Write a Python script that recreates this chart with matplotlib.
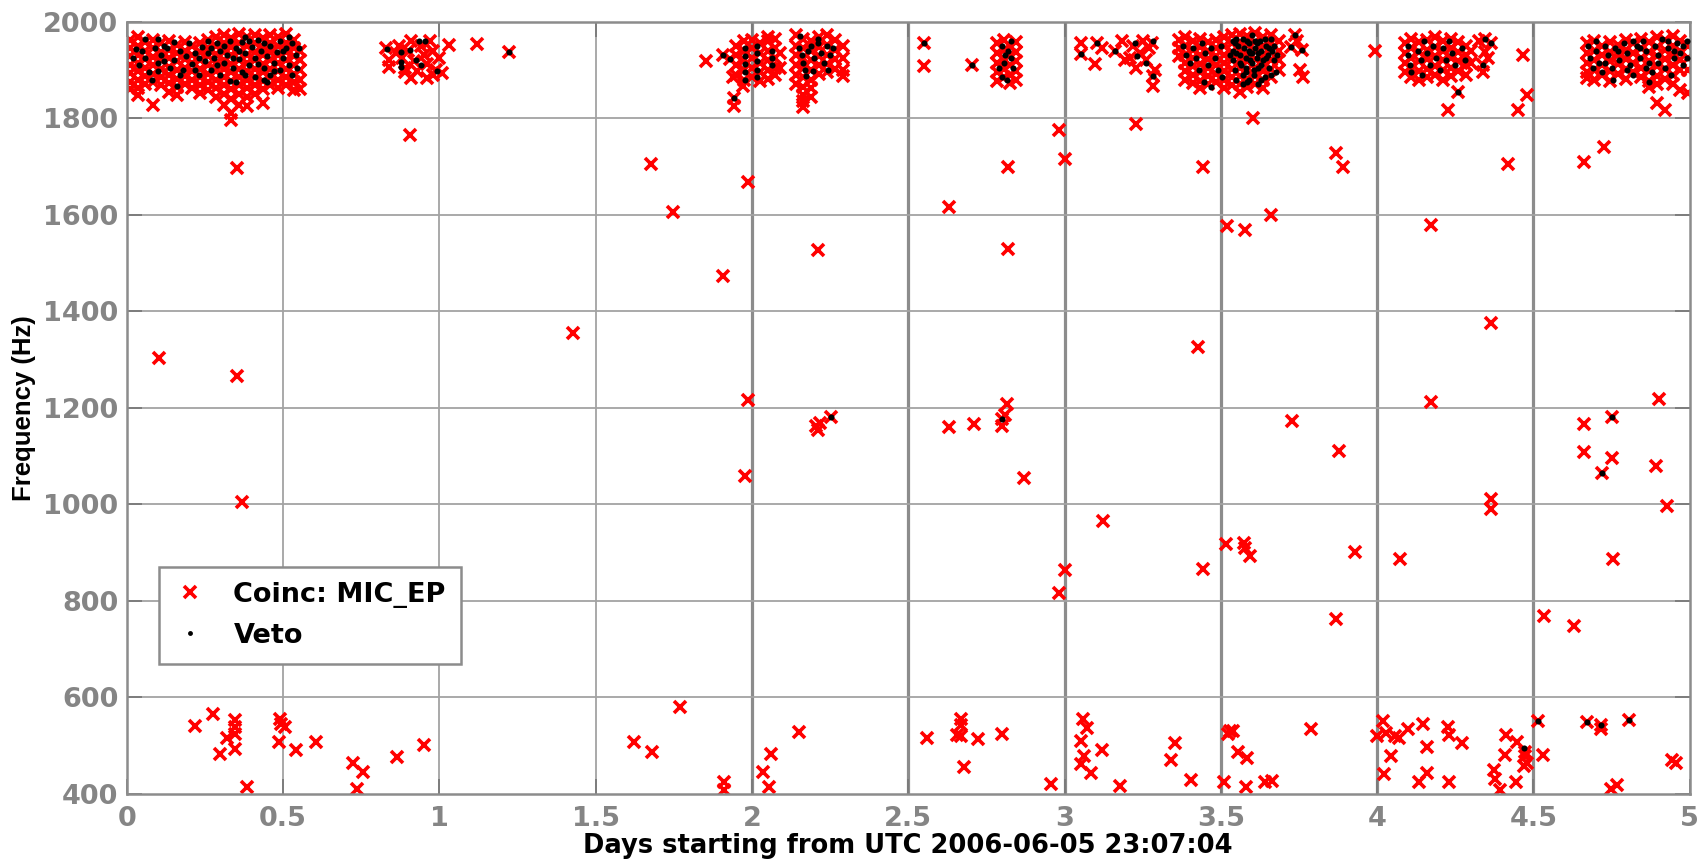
import matplotlib
matplotlib.use("Agg")
import matplotlib.pyplot as plt

# ---------------- data ----------------
x_ticks = [0, 0.5, 1, 1.5, 2, 2.5, 3, 3.5, 4, 4.5, 5]
x_tick_labels = ["0", "0.5", "1", "1.5", "2", "2.5", "3", "3.5", "4", "4.5", "5"]
y_ticks = [400, 600, 800, 1000, 1200, 1400, 1600, 1800, 2000]
series_labels = ["Coinc: MIC_EP", "Veto"]
x_label = "Days starting from UTC 2006-06-05 23:07:04"
y_label = "Frequency (Hz)"

# dense clusters of coincidences near 1900 Hz: (day, [frequencies])
coinc_cluster_a = [
    (0.01, [1962, 1945, 1928, 1910, 1893, 1876, 1860]),
    (0.035, [1968, 1950, 1932, 1915, 1898, 1880, 1862, 1848]),
    (0.06, [1958, 1940, 1922, 1905, 1888, 1870]),
    (0.085, [1962, 1945, 1927, 1910, 1892, 1875, 1828]),
    (0.11, [1955, 1938, 1920, 1902, 1885, 1868]),
    (0.135, [1960, 1942, 1925, 1907, 1890, 1872, 1855]),
    (0.16, [1952, 1935, 1918, 1900, 1882, 1865, 1848]),
    (0.185, [1958, 1940, 1922, 1905, 1888, 1870]),
    (0.21, [1950, 1932, 1915, 1897, 1880, 1862]),
    (0.235, [1956, 1938, 1920, 1903, 1885, 1868, 1852]),
    (0.26, [1962, 1945, 1928, 1910, 1892, 1875, 1858]),
    (0.285, [1968, 1950, 1933, 1915, 1898, 1880, 1862, 1845]),
    (0.31, [1972, 1955, 1938, 1920, 1902, 1885, 1868, 1850, 1828]),
    (0.335, [1966, 1948, 1930, 1912, 1895, 1878, 1860, 1840, 1810, 1797]),
    (0.36, [1974, 1956, 1938, 1920, 1903, 1886, 1868, 1850, 1828]),
    (0.385, [1968, 1950, 1932, 1915, 1898, 1880, 1862, 1845, 1826]),
    (0.41, [1972, 1955, 1938, 1920, 1902, 1885, 1868, 1850]),
    (0.435, [1966, 1948, 1930, 1912, 1895, 1878, 1860, 1831]),
    (0.46, [1972, 1955, 1938, 1920, 1903, 1886, 1868]),
    (0.485, [1968, 1950, 1932, 1915, 1898, 1880, 1862]),
    (0.51, [1974, 1956, 1938, 1920, 1903, 1886, 1868]),
    (0.535, [1962, 1945, 1928, 1910, 1892, 1875, 1858]),
    (0.555, [1940, 1920, 1900, 1880, 1860]),
]
coinc_cluster_c = [
    (1.95, [1950, 1930, 1910, 1890]),
    (1.975, [1960, 1940, 1920, 1900, 1880]),
    (2.0, [1962, 1945, 1925, 1905, 1885]),
    (2.025, [1955, 1935, 1915, 1895, 1878]),
    (2.05, [1969, 1960, 1940, 1920, 1900, 1882]),
    (2.075, [1965, 1945, 1925, 1905, 1890]),
    (2.09, [1935, 1905]),
    (2.14, [1972, 1950, 1930, 1910, 1890, 1870]),
    (2.165, [1965, 1945, 1925, 1905, 1885, 1865, 1848, 1835, 1824]),
    (2.19, [1960, 1940, 1920, 1900, 1880, 1862, 1845]),
    (2.215, [1968, 1948, 1928, 1910, 1892]),
    (2.24, [1972, 1952, 1932, 1912, 1895]),
    (2.265, [1962, 1942, 1922, 1902]),
    (2.29, [1950, 1925, 1900, 1888]),
]
coinc_cluster_d = [
    (2.785, [1955, 1935, 1915, 1895, 1878]),
    (2.805, [1962, 1942, 1922, 1902, 1885]),
    (2.825, [1950, 1930, 1910, 1890, 1872]),
    (2.845, [1958, 1938, 1918, 1898, 1880]),
]
coinc_cluster_e = [
    (3.365, [1962, 1945, 1928]),
    (3.385, [1968, 1950, 1932, 1915, 1898, 1880]),
    (3.41, [1960, 1942, 1925, 1908, 1890, 1872]),
    (3.435, [1965, 1948, 1930, 1912, 1895, 1878, 1862]),
    (3.46, [1958, 1940, 1922, 1905, 1888, 1870]),
    (3.485, [1962, 1945, 1928, 1910, 1892, 1875]),
    (3.51, [1968, 1950, 1932, 1915, 1898, 1880, 1862]),
    (3.535, [1972, 1955, 1938, 1920, 1902, 1885, 1868]),
    (3.56, [1975, 1958, 1940, 1922, 1905, 1888, 1870, 1855]),
    (3.585, [1970, 1952, 1935, 1918, 1900, 1882, 1865]),
    (3.61, [1976, 1958, 1940, 1922, 1905, 1888, 1870]),
    (3.635, [1968, 1950, 1932, 1915, 1898, 1880, 1862]),
    (3.66, [1972, 1955, 1938, 1920, 1902, 1885]),
    (3.685, [1960, 1940, 1920, 1900]),
]
coinc_cluster_f = [
    (4.09, [1955, 1935, 1915, 1895]),
    (4.11, [1965, 1945, 1925, 1905, 1885]),
    (4.135, [1958, 1938, 1918, 1898, 1880]),
    (4.16, [1962, 1942, 1922, 1902, 1885]),
    (4.185, [1968, 1948, 1928, 1908, 1890]),
    (4.21, [1960, 1940, 1920, 1900, 1880]),
    (4.235, [1965, 1945, 1925, 1905, 1888]),
    (4.26, [1958, 1938, 1918, 1898]),
    (4.285, [1950, 1930, 1910, 1890]),
    (4.3, [1940, 1915]),
]
coinc_cluster_g = [
    (4.67, [1955, 1935, 1915, 1895, 1883]),
    (4.695, [1960, 1940, 1920, 1900, 1880]),
    (4.72, [1950, 1930, 1910, 1890]),
    (4.745, [1958, 1938, 1918, 1898, 1878]),
    (4.77, [1952, 1932, 1912, 1892]),
    (4.795, [1962, 1942, 1922, 1902, 1882]),
    (4.82, [1955, 1935, 1915, 1895]),
    (4.845, [1965, 1945, 1925, 1905, 1885]),
    (4.87, [1958, 1938, 1918, 1898, 1878, 1865]),
    (4.895, [1968, 1948, 1928, 1908, 1888, 1870, 1831]),
    (4.92, [1962, 1942, 1922, 1902, 1882, 1817]),
    (4.945, [1970, 1950, 1930, 1910, 1890, 1870]),
    (4.97, [1960, 1940, 1920, 1900, 1859]),
    (4.993, [1950, 1925, 1900, 1852]),
]

# sparser coincidences in the upper band
coinc_top_x = [0.83, 0.84, 0.84, 0.86, 0.87, 0.88, 0.89, 0.90, 0.91, 0.91, 0.92, 0.93,
               0.94, 0.95, 0.96, 0.96, 0.97, 0.98, 0.99, 1.00, 1.01, 1.03, 1.12, 1.224,
               0.89, 0.98,
               1.854, 1.909, 1.93, 1.94, 1.943, 1.943, 1.972,
               2.552, 2.552, 2.703,
               3.052, 3.052, 3.098, 3.12, 3.103, 3.16, 3.183, 3.195, 3.22, 3.24, 3.23,
               3.26, 3.27, 3.284, 3.284, 3.29, 3.25, 3.28, 3.21,
               3.736, 3.724, 3.76, 3.754, 3.763, 3.745, 3.994,
               4.258, 4.228, 4.45, 4.48, 4.467,
               4.325, 4.345, 4.363, 4.34, 4.345, 4.355, 4.34]
coinc_top_y = [1945, 1920, 1907, 1935, 1950, 1925, 1905, 1940, 1883, 1960, 1918, 1898,
               1950, 1930, 1883, 1912, 1960, 1940, 1900, 1925, 1893, 1952, 1953, 1938,
               1895, 1890,
               1919, 1931, 1923, 1886, 1841, 1826, 1866,
               1955, 1909, 1910,
               1955, 1934, 1912, 1945, 1955, 1939, 1960, 1921, 1950, 1935, 1905,
               1920, 1945, 1888, 1866, 1900, 1960, 1955, 1925,
               1972, 1948, 1941, 1900, 1886, 1960, 1939,
               1855, 1817, 1817, 1848, 1931,
               1960, 1964, 1955, 1910, 1938, 1925, 1895]

# scattered coincidences in the middle band
coinc_mid_x = [0.104, 0.354, 0.37, 0.354, 0.907,
               1.678, 1.989, 1.749, 2.213, 1.909, 1.429, 1.989, 2.206, 2.219, 2.213,
               2.254, 1.979, 2.632, 2.632, 2.709,
               2.983, 3.229, 3.603, 2.818, 3.0, 3.443, 3.870, 3.891, 3.662, 3.52,
               3.579, 4.171, 2.818, 3.427, 2.817, 2.80, 2.80, 2.81, 4.171, 3.728,
               3.879, 2.869, 3.122, 3.517, 3.574, 3.579, 3.595, 3.928, 4.072, 3.443,
               3.0, 2.983, 3.870,
               4.418, 4.661, 4.725, 4.363, 4.901, 4.661, 4.752, 4.661, 4.752, 4.718,
               4.892, 4.928, 4.363, 4.363, 4.754, 4.535, 4.629]
coinc_mid_y = [1303, 1267, 1005, 1697, 1766,
               1705, 1668, 1605, 1528, 1474, 1355, 1217, 1162, 1169, 1155,
               1181, 1059, 1616, 1160, 1166,
               1776, 1788, 1800, 1700, 1716, 1698, 1729, 1698, 1600, 1576,
               1568, 1579, 1529, 1326, 1207, 1176, 1162, 1185, 1212, 1172,
               1110, 1054, 966, 917, 920, 910, 894, 902, 886, 866,
               864, 816, 763,
               1705, 1710, 1741, 1376, 1219, 1167, 1181, 1109, 1097, 1066,
               1079, 997, 1012, 990, 886, 769, 748]

# coincidences in the low band (400-600 Hz)
coinc_low_x = [0.22, 0.275, 0.32, 0.30, 0.345, 0.348, 0.348, 0.348, 0.385, 0.49,
               0.495, 0.505, 0.486, 0.54, 0.605, 0.725, 0.756, 0.738, 0.866, 0.95,
               1.77, 1.624, 1.68, 1.91, 1.91, 2.037, 2.06, 2.055, 2.15,
               2.56, 2.668, 2.67, 2.655, 2.67, 2.724, 2.80, 2.68, 2.958,
               3.059, 3.071, 3.054, 3.063, 3.054, 3.085, 3.12, 3.177, 3.354, 3.34,
               3.406, 3.51, 3.528, 3.54, 3.524, 3.554, 3.585, 3.58, 3.64, 3.663, 3.79,
               4.019, 4.0, 4.03, 4.057, 4.07, 4.1, 4.146, 4.043, 4.022, 4.16, 4.16,
               4.135, 4.228, 4.23, 4.27, 4.23, 4.413, 4.448, 4.408, 4.373, 4.378,
               4.392, 4.444, 4.474, 4.474, 4.48, 4.47, 4.514, 4.531, 4.673, 4.717,
               4.717, 4.807, 4.748, 4.769, 4.943, 4.957]
coinc_low_y = [540, 565, 515, 482, 553, 539, 525, 494, 415, 556,
               544, 538, 508, 491, 508, 464, 446, 410, 477, 501,
               581, 507, 487, 425, 408, 446, 482, 415, 529,
               516, 556, 542, 523, 520, 514, 524, 455, 420,
               556, 537, 509, 478, 462, 443, 492, 417, 506, 471,
               430, 425, 531, 531, 524, 488, 474, 415, 424, 427, 534,
               551, 520, 527, 521, 516, 534, 544, 478, 441, 497, 443,
               425, 539, 523, 506, 424, 523, 508, 481, 450, 431,
               408, 425, 488, 478, 464, 457, 551, 481, 549, 534,
               542, 553, 411, 418, 471, 465]

# veto triggers
veto_x = [0.03, 0.05, 0.06, 0.04, 0.07, 0.08, 0.06, 0.10, 0.11, 0.10, 0.10, 0.13,
          0.15, 0.14, 0.17, 0.18, 0.19, 0.20, 0.21, 0.22, 0.23, 0.24, 0.25, 0.26,
          0.27, 0.28, 0.29, 0.30, 0.30, 0.31, 0.32, 0.33, 0.33, 0.34, 0.35, 0.36,
          0.37, 0.37, 0.38, 0.39, 0.40, 0.41, 0.41, 0.42, 0.43, 0.44, 0.45, 0.46,
          0.46, 0.47, 0.48, 0.49, 0.49, 0.50, 0.51, 0.52, 0.53, 0.54, 0.545, 0.52,
          0.16, 0.35, 0.44, 0.12, 0.27, 0.38, 0.29,
          0.832, 0.879, 0.879, 0.879, 0.905, 0.924, 0.943, 0.936, 0.955, 0.993, 1.224,
          1.909, 1.93, 1.943, 1.977, 1.977, 1.977, 1.977, 1.977, 2.017, 2.017, 2.017,
          2.017, 2.017, 2.063, 2.063, 2.063,
          2.155, 2.15, 2.16, 2.165, 2.17, 2.18, 2.19, 2.2, 2.21, 2.22, 2.23, 2.24,
          2.25, 2.26, 2.195, 2.172, 2.245, 2.21,
          2.552, 2.703,
          2.80, 2.81, 2.805, 2.79, 2.82, 2.83, 2.835, 2.8, 2.815, 2.83,
          3.052, 3.103, 3.16, 3.226, 3.284, 3.232, 3.26, 3.284,
          3.38, 3.39, 3.40, 3.41, 3.42, 3.43, 3.44, 3.45, 3.46, 3.47, 3.48, 3.49,
          3.50, 3.505, 3.445, 3.47,
          3.54, 3.54, 3.54, 3.545, 3.55, 3.555, 3.56, 3.565, 3.57, 3.575, 3.58, 3.58,
          3.585, 3.59, 3.595, 3.6, 3.6, 3.605, 3.61, 3.615, 3.62, 3.625, 3.63, 3.635,
          3.64, 3.645, 3.65, 3.655, 3.66, 3.665, 3.67, 3.675, 3.57, 3.62, 3.53, 3.61,
          3.58, 3.6,
          3.736, 3.724, 3.76,
          4.1, 4.1, 4.105, 4.11, 4.13, 4.14, 4.15, 4.16, 4.17, 4.18, 4.19, 4.2,
          4.21, 4.22, 4.23, 4.24, 4.25, 4.27, 4.28, 4.258, 4.145,
          4.345, 4.363, 4.34,
          4.675, 4.68, 4.69, 4.7, 4.71, 4.72, 4.73, 4.74, 4.75, 4.755, 4.76, 4.775,
          4.79, 4.8, 4.81, 4.82, 4.83, 4.84, 4.85, 4.86, 4.87, 4.88, 4.89, 4.9,
          4.91, 4.92, 4.93, 4.95, 4.96, 4.97, 4.98, 4.99, 4.87, 4.94,
          2.254, 2.80, 4.752, 4.718,
          4.47, 4.514, 4.673, 4.717, 4.807]
veto_y = [1944, 1940, 1925, 1910, 1895, 1880, 1965, 1965, 1930, 1915, 1898, 1945,
          1920, 1905, 1940, 1900, 1928, 1955, 1912, 1935, 1890, 1948, 1918, 1935,
          1900, 1925, 1955, 1940, 1890, 1915, 1930, 1960, 1878, 1905, 1945, 1922,
          1895, 1958, 1935, 1910, 1948, 1925, 1885, 1962, 1940, 1905, 1928, 1950,
          1890, 1915, 1938, 1960, 1900, 1925, 1945, 1910, 1890, 1930, 1905, 1968,
          1866, 1875, 1880, 1950, 1945, 1968, 1910,
          1943, 1938, 1917, 1907, 1941, 1921, 1910, 1959, 1959, 1897, 1938,
          1931, 1923, 1841, 1945, 1928, 1912, 1895, 1880, 1950, 1935, 1918,
          1900, 1885, 1940, 1925, 1910,
          1970, 1945, 1930, 1915, 1900, 1940, 1950, 1925, 1955, 1935, 1915, 1950,
          1930, 1945, 1897, 1887, 1900, 1965,
          1955, 1910,
          1950, 1930, 1915, 1905, 1940, 1925, 1905, 1885, 1880, 1960,
          1934, 1955, 1939, 1955, 1959, 1928, 1914, 1888,
          1950, 1930, 1915, 1945, 1925, 1900, 1955, 1935, 1910, 1945, 1925, 1900,
          1950, 1885, 1875, 1865,
          1960, 1940, 1920, 1900, 1880, 1950, 1930, 1910, 1965, 1945, 1925, 1895,
          1875, 1955, 1935, 1915, 1972, 1890, 1945, 1925, 1905, 1960, 1940, 1920,
          1885, 1950, 1930, 1905, 1965, 1940, 1920, 1895, 1870, 1870, 1930, 1960,
          1905, 1935,
          1972, 1948, 1941,
          1950, 1930, 1910, 1895, 1940, 1920, 1960, 1935, 1910, 1950, 1925, 1900,
          1945, 1920, 1960, 1935, 1910, 1945, 1920, 1855, 1890,
          1964, 1955, 1910,
          1950, 1925, 1905, 1940, 1915, 1895, 1950, 1930, 1905, 1880, 1945, 1920,
          1955, 1935, 1910, 1890, 1950, 1925, 1960, 1940, 1915, 1895, 1950, 1930,
          1965, 1905, 1945, 1925, 1955, 1935, 1910, 1960, 1875, 1890,
          1181, 1176, 1181, 1066,
          495, 551, 549, 542, 553]

# extra veto triggers inside the densest clusters
veto_dense_x = [3.545, 3.55, 3.56, 3.57, 3.585, 3.59, 3.595, 3.605, 3.615, 3.62,
                3.63, 3.64, 3.645, 3.655, 3.66, 3.67, 3.68, 3.59, 3.63, 3.55,
                0.02, 0.09, 0.12, 0.15, 0.17, 0.22, 0.26, 0.31, 0.34, 0.36,
                0.39, 0.42, 0.44, 0.47, 0.50, 0.53, 0.38, 0.45, 0.55, 0.23,
                4.70, 4.73, 4.77, 4.80, 4.84, 4.86, 4.90, 4.93, 4.95, 4.98,
                4.99, 4.82]
veto_dense_y = [1955, 1935, 1915, 1890, 1960, 1940, 1920, 1900, 1955, 1935,
                1910, 1965, 1925, 1945, 1890, 1950, 1930, 1880, 1880, 1965,
                1925, 1945, 1918, 1958, 1890, 1900, 1960, 1950, 1925, 1940,
                1960, 1912, 1955, 1898, 1940, 1955, 1890, 1875, 1945, 1925,
                1960, 1915, 1940, 1900, 1945, 1905, 1915, 1960, 1940, 1950,
                1925, 1960]

# ---------------- assemble series ----------------
coinc_x, coinc_y = [], []
for cluster in (coinc_cluster_a, coinc_cluster_c, coinc_cluster_d,
                coinc_cluster_e, coinc_cluster_f, coinc_cluster_g):
    for cx, ys in cluster:
        for cy in ys:
            coinc_x.append(cx)
            coinc_y.append(cy)
coinc_x += coinc_top_x + coinc_mid_x + coinc_low_x
coinc_y += coinc_top_y + coinc_mid_y + coinc_low_y
all_veto_x = veto_x + veto_dense_x
all_veto_y = veto_y + veto_dense_y

# ---------------- figure ----------------
W, H = 1701, 860
fig = plt.figure(figsize=(W / 100, H / 100), dpi=100)
fig.patch.set_facecolor("white")
ax = fig.add_axes([126.7 / W, 1 - 794 / H, 1563 / W, 772.3 / H])

grid_col = "#a3a3a3"
for v in [0.5, 1, 1.5]:
    ax.axvline(v, color=grid_col, lw=1.3, zorder=0.5)
for v in [2, 2.5, 3, 3.5, 4, 4.5]:
    ax.axvline(v, color="#8c8c8c", lw=2.3, zorder=0.5)
for h in y_ticks[1:-1]:
    ax.axhline(h, color=grid_col, lw=1.3, zorder=0.5)

ax.plot(coinc_x, coinc_y, linestyle="none", marker="x", color="#ff0000",
        markersize=9, markeredgewidth=2.6, label=series_labels[0], zorder=2)
ax.plot(all_veto_x, all_veto_y, linestyle="none", marker="o", color="black",
        markersize=4.4, markeredgewidth=0, label=series_labels[1], zorder=3)

ax.set_xlim(0, 5)
ax.set_ylim(400, 2000)
ax.set_xticks(x_ticks)
ax.set_xticklabels(x_tick_labels)
ax.set_yticks(y_ticks)
ax.set_yticklabels([str(t) for t in y_ticks])

for s in ax.spines.values():
    s.set_color("#8c8c8c")
    s.set_linewidth(1.8)

ax.tick_params(axis="both", direction="in", length=11, width=1.3, color="#7a7a7a",
               top=True, right=True, labelsize=19.5, labelcolor="#858585")
ax.tick_params(axis="x", pad=9)
ax.tick_params(axis="y", pad=6)
for lbl in ax.get_xticklabels() + ax.get_yticklabels():
    lbl.set_fontweight("bold")
    lbl.set_fontfamily("DejaVu Sans")

ax.set_xlabel(x_label, fontsize=18.5, fontweight="bold", family="DejaVu Sans",
              color="black")
ax.xaxis.set_label_coords(0.5, -0.05)
ax.set_ylabel(y_label, fontsize=18.5, fontweight="bold", family="Liberation Sans",
              color="black")
ax.yaxis.set_label_coords(-0.058, 0.5)

leg = ax.legend(loc="upper left", bbox_to_anchor=((159 - 126.7) / 1563, (794 - 567) / 772.3),
                frameon=True, fancybox=False, borderaxespad=0, handlelength=1.2,
                handletextpad=1.0, borderpad=0.55, labelspacing=0.55,
                prop={"family": "DejaVu Sans", "weight": "bold", "size": 19.5})
leg.get_frame().set_edgecolor("#8c8c8c")
leg.get_frame().set_linewidth(1.8)
leg.get_frame().set_alpha(1)
handles = leg.legend_handles
handles[0].set_markersize(8)
handles[1].set_markersize(3.5)
leg.set_zorder(5)

fig.savefig("out.png", dpi=100, facecolor="white")
